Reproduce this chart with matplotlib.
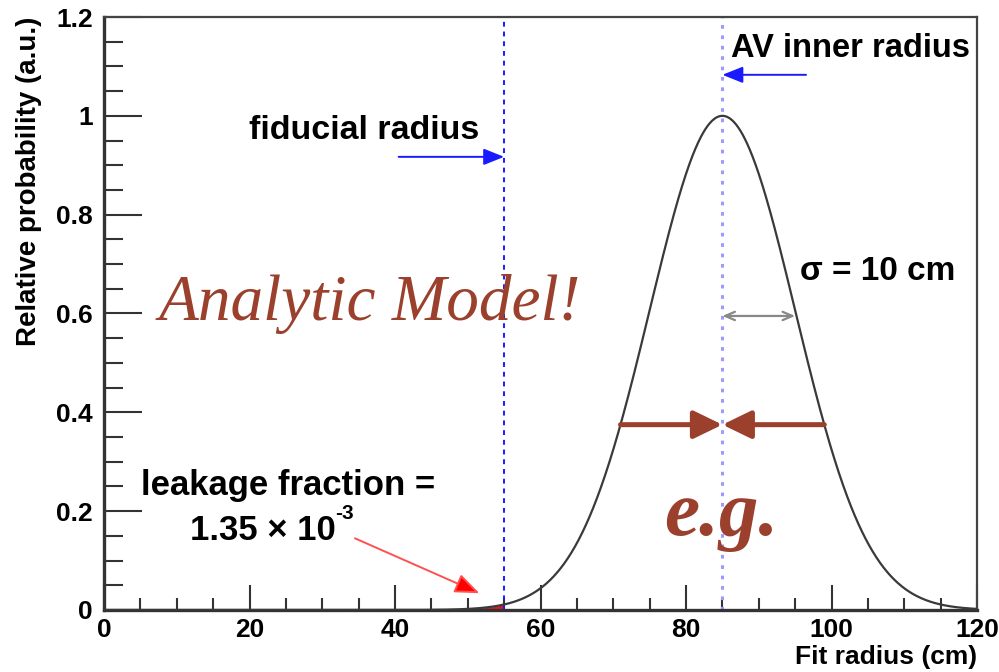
import numpy as np
import matplotlib.pyplot as plt
from matplotlib.ticker import MultipleLocator

# detector geometry and resolution (cm)
fid_radius = 55.0
av_radius = 85.0
sigma = 10.0
leak_label = "leakage fraction ="
leak_value = "1.35 \u00d7 10"
leak_exp = "-3"
x_ticks = [0, 20, 40, 60, 80, 100, 120]
y_ticks = [0, 0.2, 0.4, 0.6, 0.8, 1.0, 1.2]
y_tick_labels = ["0", "0.2", "0.4", "0.6", "0.8", "1", "1.2"]

plt.rcParams['font.family'] = ['Liberation Sans', 'DejaVu Sans']
plt.rcParams['font.weight'] = 'bold'

brown = '#9b402c'
blue = '#1a1aff'

x = np.linspace(0, 120, 1200)
y = np.exp(-0.5 * ((x - av_radius) / sigma) ** 2)

fig = plt.figure(figsize=(9.99, 6.72), dpi=100)
ax = fig.add_axes([0.1041, 0.0923, 0.8739, 0.8824])

ax.plot(x, y, color='#3a3a3a', lw=1.6, zorder=3)
tail = x <= fid_radius
ax.fill_between(x[tail], 0, y[tail], color='#e8141e', lw=0, zorder=2)

ax.axvline(fid_radius, color=blue, ls=(0, (2.5, 2.5)), lw=1.4)
ax.axvline(av_radius, color='#9a9aff', ls=(0, (1.2, 2.2)), lw=2.2)

ax.set_xlim(0, 120)
ax.set_ylim(0, 1.2)
ax.set_xticks(x_ticks)
ax.set_yticks(y_ticks)
ax.set_yticklabels(y_tick_labels)
ax.xaxis.set_minor_locator(MultipleLocator(5))
ax.yaxis.set_minor_locator(MultipleLocator(0.05))
ax.tick_params(axis='both', which='both', direction='in', colors='#333333',
               labelcolor='black', labelsize=19)
ax.tick_params(axis='x', which='major', length=18, width=1.5, pad=6)
ax.tick_params(axis='x', which='minor', length=9, width=1.5)
ax.tick_params(axis='y', which='major', length=27, width=1.5, pad=8)
ax.tick_params(axis='y', which='minor', length=14, width=1.5)
for s in ['left', 'bottom']:
    ax.spines[s].set_linewidth(2.4)
    ax.spines[s].set_color('#333333')
for s in ['top', 'right']:
    ax.spines[s].set_linewidth(1.6)
    ax.spines[s].set_color('#444444')

ax.set_xlabel("Fit radius (cm)", fontsize=19, fontweight='bold',
              loc='right', labelpad=2)
ax.set_ylabel("Relative probability (a.u.)", fontsize=20, fontweight='bold',
              loc='top', labelpad=10)

# marker annotations
head = '-|>,head_length=1.25,head_width=0.5'
ax.annotate("", xy=(fid_radius, 0.917), xytext=(40.5, 0.917),
            arrowprops=dict(arrowstyle=head, color=blue, lw=1.4,
                            shrinkA=0, shrinkB=0))
ax.text(19.9, 0.97, "fiducial radius", fontsize=24.5, va='center', ha='left')

ax.annotate("", xy=(av_radius, 1.083), xytext=(96.5, 1.083),
            arrowprops=dict(arrowstyle=head, color=blue, lw=1.4,
                            shrinkA=0, shrinkB=0))
ax.text(86.2, 1.137, "AV inner radius", fontsize=23.5, va='center', ha='left')

ax.annotate("", xy=(av_radius, 0.595), xytext=(av_radius + sigma, 0.595),
            arrowprops=dict(arrowstyle='<->,head_length=0.7,head_width=0.3',
                            color='#888888', lw=1.6, shrinkA=0, shrinkB=0))
ax.text(95.7, 0.685, "\u03c3 = 10 cm", fontsize=24, va='center', ha='left')

ax.text(25.3, 0.252, leak_label, fontsize=25, va='center', ha='center')
val = ax.text(11.8, 0.161, leak_value, fontsize=25, va='center', ha='left')
ax.annotate(leak_exp, xy=(1.0, 0.72), xycoords=val, fontsize=15,
            va='bottom', ha='left')
ax.annotate("", xy=(51.6, 0.034), xytext=(34.5, 0.145),
            arrowprops=dict(arrowstyle='-|>,head_length=1.5,head_width=0.6',
                            color='#ff6a6a', fc='#ff0000', ec='#ff5050',
                            lw=1.4, shrinkA=0, shrinkB=0))

# width marker at the curve crossings
half = sigma * np.sqrt(-2 * np.log(0.375))
for end in (av_radius - half, av_radius + half):
    ax.annotate("", xy=(av_radius, 0.375), xytext=(end, 0.375),
                arrowprops=dict(arrowstyle='-|>,head_length=1.75,head_width=0.85',
                                color=brown, lw=3.6, shrinkA=0, shrinkB=0),
                zorder=5)

ax.text(7.5, 0.62, "Analytic Model!", fontsize=47, color=brown,
        family='Liberation Serif', style='italic', weight='normal',
        va='center', ha='left')
ax.text(77.0, 0.19, "e.g.", fontsize=57, color=brown,
        family='Liberation Serif', style='italic', weight='bold',
        va='center', ha='left')

fig.savefig("out.png", dpi=100)
